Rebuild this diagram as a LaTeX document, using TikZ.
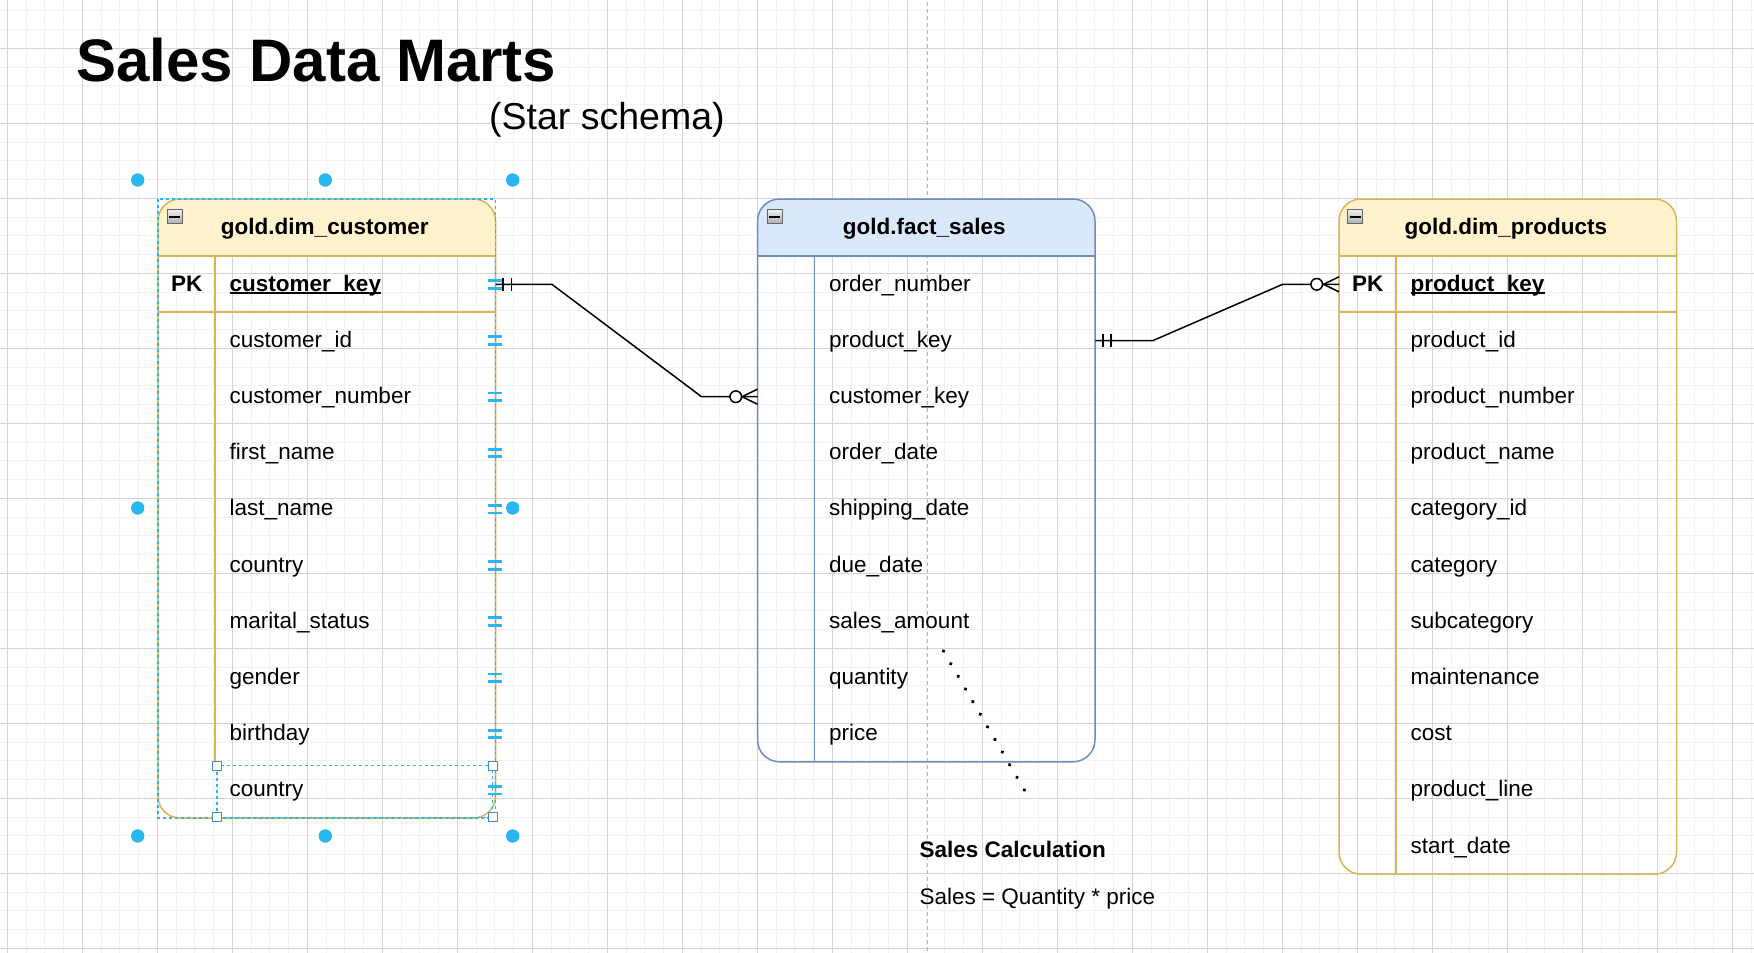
\documentclass[tikz,border=0pt]{standalone}
\usepackage{fontspec}
\setmainfont{Liberation Sans}
\usetikzlibrary{calc}

\definecolor{dimfill}{HTML}{FFF2CC}
\definecolor{dimline}{HTML}{D6B656}
\definecolor{factfill}{HTML}{DAE8FC}
\definecolor{factline}{HTML}{6C8EBF}
\definecolor{selblue}{HTML}{29B6F2}
\definecolor{hdlblue}{HTML}{3A8FD0}

% underlined primary key
\newcommand{\ukey}[1]{\setbox0\hbox{#1}\rlap{\rule[-2.6pt]{\wd0}{1.5pt}}\box0}

\begin{document}
\begin{tikzpicture}[
  x=1pt, y=-1pt,
  fld/.style={anchor=north west, font=\fontsize{22.5}{27}\selectfont,
              minimum width=280.5pt, minimum height=56.2pt,
              text width=251.5pt, inner xsep=14.5pt, inner ysep=0pt,
              text height=17.6pt, text depth=4pt, align=left},
  keycell/.style={anchor=north west, font=\fontsize{22.5}{27}\selectfont\bfseries,
              minimum width=57pt, minimum height=56.2pt, inner sep=0pt,
              text height=17.6pt, text depth=4pt},
  hdr/.style={font=\fontsize{22.5}{27}\selectfont\bfseries, inner sep=0pt,
              text height=17.6pt, text depth=4pt},
  minusbox/.style={draw=black!60, line width=0.8pt, top color=black!6,
              bottom color=black!32, minimum width=15pt, minimum height=14pt,
              inner sep=0pt},
  dimbox/.style={draw=dimline, line width=1.5pt},
  factbox/.style={draw=factline, line width=1.5pt},
  rel/.style={black, line width=1.5pt},
  sel/.style={selblue, line width=1.2pt, dash pattern=on 3pt off 3pt},
  selmark/.style={selblue, line width=2.8pt},
  seldot/.style={circle, fill=selblue, minimum size=13.4pt, inner sep=0pt},
  handle/.style={draw=hdlblue, fill=white, line width=1.3pt,
              minimum size=9pt, inner sep=0pt},
  note/.style={font=\fontsize{22.5}{27}\selectfont, anchor=base west, inner sep=0pt}
]
  \def\xC{158}    \def\xCd{215}    \def\xCr{495.5}
  \def\xF{757.5}  \def\xFd{814.5}  \def\xFr{1095}
  \def\xP{1339}   \def\xPd{1396}   \def\xPr{1676.5}
  \def\yT{199}    \def\yH{256}     \def\rh{56.2}

  \useasboundingbox (0,0) rectangle (1754,953);
  \clip (0,0) rectangle (1754,953);
  \fill[white] (0,0) rectangle (1754,953);

  %--- background grid + page break ---
  \begin{scope}[shift={(7.3,48.3)}]
    \draw[black!5, line width=1pt, step=18.75pt] (-30,920) grid (1760,-60);
    \draw[black!17, line width=1pt, step=75pt] (-30,920) grid (1760,-60);
  \end{scope}
  \draw[black!28, line width=1.2pt, dash pattern=on 4pt off 3pt]
    (927.3,-5) -- (927.3,960);

  %--- title ---
  \node[font=\fontsize{60}{72}\selectfont\bfseries, anchor=base west, inner sep=0pt]
    (title) at (76,81) {Sales Data Marts};
  \node[font=\fontsize{37.5}{45}\selectfont, anchor=base west, inner sep=0pt]
    (subtitle) at (489,129.5) {(Star schema)};

  %--- gold.dim_customer ---
  \begin{scope}
    \clip[rounded corners=22pt] (\xC,\yT) rectangle (\xCr,818);
    \fill[dimfill] (\xC,\yT) rectangle (\xCr,\yH);
  \end{scope}
  \draw[dimbox, rounded corners=22pt] (\xC,\yT) rectangle (\xCr,818);
  \draw[dimbox] (\xC,\yH) -- (\xCr,\yH);
  \draw[dimbox] (\xC,312.2) -- (\xCr,312.2);
  \draw[dimbox] (\xCd,\yH) -- (\xCd,765.8);
  \node[minusbox] (cust-m) at ({\xC+16.7},{\yT+17.5}) {\rule{10.5pt}{2pt}};
  \node[hdr] (cust-h) at ({(\xC+\xCr)/2-2},227.5) {gold.dim\_customer};
  \node[keycell] (cust-k1) at (\xC,\yH) {PK};
  \node[fld, font=\fontsize{22.5}{27}\selectfont\bfseries]
    (cust-n1) at (\xCd,\yH) {\ukey{customer\_key}};
  \foreach \f [count=\i from 2] in {customer\_id, customer\_number, first\_name,
      last\_name, country, marital\_status, gender, birthday, country} {
    \node[keycell] (cust-k\i) at (\xC,{\yH+(\i-1)*\rh}) {};
    \node[fld] (cust-n\i) at (\xCd,{\yH+(\i-1)*\rh}) {\f};
  }

  %--- gold.fact_sales ---
  \begin{scope}
    \clip[rounded corners=22pt] (\xF,\yT) rectangle (\xFr,761.8);
    \fill[factfill] (\xF,\yT) rectangle (\xFr,\yH);
  \end{scope}
  \draw[factbox, rounded corners=22pt] (\xF,\yT) rectangle (\xFr,761.8);
  \draw[factbox] (\xF,\yH) -- (\xFr,\yH);
  \draw[factbox] (\xFd,\yH) -- (\xFd,761.8);
  \node[minusbox] (fact-m) at ({\xF+17.2},{\yT+17.5}) {\rule{10.5pt}{2pt}};
  \node[hdr] (fact-h) at ({(\xF+\xFr)/2-2},227.5) {gold.fact\_sales};
  \foreach \f [count=\i] in {order\_number, product\_key, customer\_key, order\_date,
      shipping\_date, due\_date, sales\_amount, quantity, price} {
    \node[keycell] (fact-k\i) at (\xF,{\yH+(\i-1)*\rh}) {};
    \node[fld] (fact-n\i) at (\xFd,{\yH+(\i-1)*\rh}) {\f};
  }

  %--- gold.dim_products ---
  \begin{scope}
    \clip[rounded corners=22pt] (\xP,\yT) rectangle (\xPr,874.2);
    \fill[dimfill] (\xP,\yT) rectangle (\xPr,\yH);
  \end{scope}
  \draw[dimbox, rounded corners=22pt] (\xP,\yT) rectangle (\xPr,874.2);
  \draw[dimbox] (\xP,\yH) -- (\xPr,\yH);
  \draw[dimbox] (\xP,312.2) -- (\xPr,312.2);
  \draw[dimbox] (\xPd,\yH) -- (\xPd,874.2);
  \node[minusbox] (prod-m) at ({\xP+16.3},{\yT+17.5}) {\rule{10.5pt}{2pt}};
  \node[hdr] (prod-h) at ({(\xP+\xPr)/2-2},227.5) {gold.dim\_products};
  \node[keycell] (prod-k1) at (\xP,\yH) {PK};
  \node[fld, font=\fontsize{22.5}{27}\selectfont\bfseries]
    (prod-n1) at (\xPd,\yH) {\ukey{product\_key}};
  \foreach \f [count=\i from 2] in {product\_id, product\_number, product\_name,
      category\_id, category, subcategory, maintenance, cost, product\_line,
      start\_date} {
    \node[keycell] (prod-k\i) at (\xP,{\yH+(\i-1)*\rh}) {};
    \node[fld] (prod-n\i) at (\xPd,{\yH+(\i-1)*\rh}) {\f};
  }

  %--- relation: customer -> fact (one to zero-or-many) ---
  \draw[rel] (cust-n1.east) -- ++(56,0)
    -- ($(fact-k3.west)+(-56,0)$) -- (fact-k3.west);
  \draw[rel] ($(cust-n1.east)+(7.2,-6.2)$) -- ++(0,12.4);
  \draw[rel] ($(cust-n1.east)+(15.5,-6.2)$) -- ++(0,12.4);
  \draw[rel] ($(fact-k3.west)+(0,-7.5)$) -- ++(-15.5,7.5) -- ++(15.5,7.5);
  \draw[rel, fill=white] ($(fact-k3.west)+(-21.7,0)$) circle[radius=5.8pt];

  %--- relation: fact -> products ---
  \draw[rel] (fact-n2.east) -- ++(57.7,0)
    -- ($(prod-k1.west)+(-56.3,0)$) -- (prod-k1.west);
  \draw[rel] ($(fact-n2.east)+(7.4,-6.2)$) -- ++(0,12.4);
  \draw[rel] ($(fact-n2.east)+(15.7,-6.2)$) -- ++(0,12.4);
  \draw[rel] ($(prod-k1.west)+(0,-7.5)$) -- ++(-15.5,7.5) -- ++(15.5,7.5);
  \draw[rel, fill=white] ($(prod-k1.west)+(-22.3,0)$) circle[radius=5.8pt];

  %--- note: sales calculation ---
  \node[note, font=\fontsize{22.5}{27}\selectfont\bfseries]
    (note-t) at (919.3,857.3) {Sales Calculation};
  \node[note] (note-f) at (919.3,904.5) {Sales = Quantity * price};
  \coordinate (calc-a) at ($(fact-n7.south)+(-11.5,1.3)$);
  \coordinate (calc-b) at (1027,794.5);
  \draw[black, line width=3.8pt, dash pattern=on 0.01pt off 14.6pt, line cap=round]
    (calc-a) -- (calc-b);

  %--- selection handles on dim_customer ---
  \draw[sel] (\xC,\yT) rectangle (\xCr,818);
  \foreach \i in {1,...,10} {
    \draw[selmark] ($(cust-n\i.east)+(-7.5,-3.8)$) -- ++(14,0);
    \draw[selmark] ($(cust-n\i.east)+(-7.5,3.8)$) -- ++(14,0);
  }
  \foreach \p [count=\j] in {(137.7,180),(325.3,180),(512.7,180),(137.7,508),
      (512.7,508),(137.7,836),(325.3,836),(512.7,836)}
    \node[seldot] (dot-\j) at \p {};
  \draw[sel] (217,765.7) rectangle (492.7,817.3);
  \foreach \p [count=\j] in {(217,765.7),(492.7,765.7),(217,817.3),(492.7,817.3)}
    \node[handle] (hdl-\j) at \p {};
\end{tikzpicture}
\end{document}
